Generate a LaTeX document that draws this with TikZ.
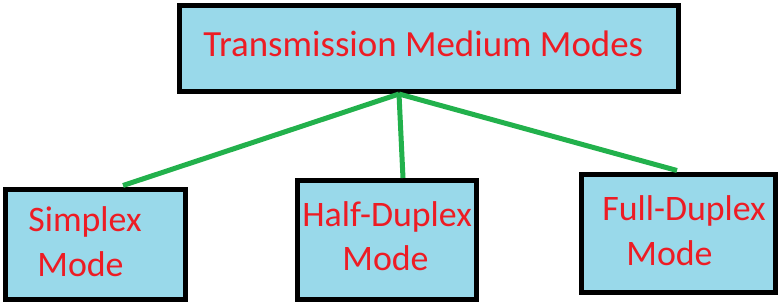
\documentclass[tikz,border=0pt]{standalone}
\usepackage{fontspec}
\setmainfont{Carlito}
\definecolor{boxblue}{RGB}{153,217,234}
\definecolor{linkgreen}{RGB}{34,177,76}
\definecolor{textred}{RGB}{237,28,36}
\begin{document}
\begin{tikzpicture}[
    modebox/.style={draw=black,fill=boxblue,line width=2.85pt,inner sep=0pt},
    modetext/.style={anchor=base west,inner sep=0pt,text=textred,font=\fontsize{20.4}{24}\selectfont},
    link/.style={draw=linkgreen,line width=2.85pt}]
  \useasboundingbox (0,0) rectangle (15.58,6.06);

  \node[modebox,minimum width=9.98cm,minimum height=1.72cm] (medium) at (8.58,5.09) {};
  \node[modetext,font=\fontsize{21}{25}\selectfont] (mediumlbl) at (4.06,4.92) {Transmission Medium Modes};

  \node[modebox,minimum width=3.6cm,minimum height=2.2cm] (simplex) at (1.91,1.17) {};
  \node[modetext] (simplexa) at (0.56,1.42) {Simplex};
  \node[modetext] (simplexb) at (0.74,0.52) {Mode};

  \node[modebox,minimum width=3.58cm,minimum height=2.38cm] (half) at (7.74,1.26) {};
  \node[modetext] (halfa) at (6.04,1.52) {Half-Duplex};
  \node[modetext] (halfb) at (6.84,0.64) {Mode};

  \node[modebox,minimum width=3.88cm,minimum height=2.36cm] (full) at (13.57,1.39) {};
  \node[modetext] (fulla) at (12.04,1.64) {Full-Duplex};
  \node[modetext] (fullb) at (12.52,0.74) {Mode};

  % green links from the bottom of the top box
  \coordinate (hub) at ([xshift=-0.6cm]medium.south);
  \coordinate (simplextop) at ([xshift=0.55cm,yshift=0.03cm]simplex.north);
  \coordinate (halftop) at ([xshift=0.32cm]half.north);
  \coordinate (fulltop) at ([xshift=-0.03cm,yshift=0.03cm]full.north);
  \draw[link] (hub) -- (simplextop);
  \draw[link] (hub) -- (halftop);
  \draw[link] (hub) -- (fulltop);
\end{tikzpicture}
\end{document}
